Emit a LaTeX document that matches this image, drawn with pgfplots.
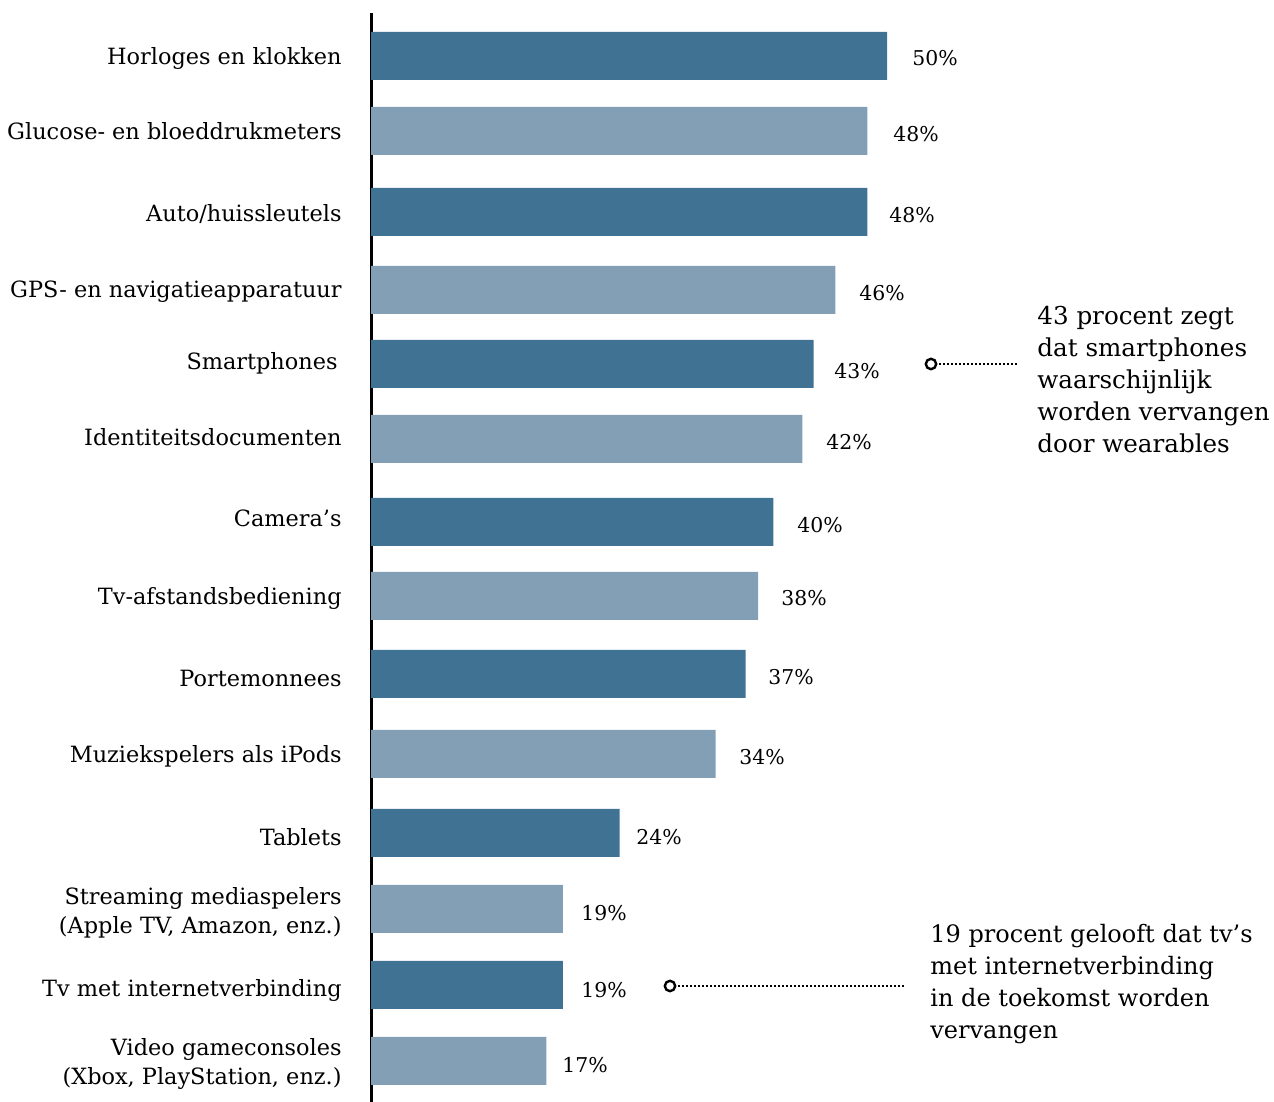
\documentclass[border=0pt]{standalone}
\usepackage{fontspec}
\setmainfont{DejaVu Serif}
\usepackage{pgfplots}
\pgfplotsset{compat=1.18}
\definecolor{darkbar}{HTML}{407294}
\definecolor{lightbar}{HTML}{829FB5}
\newcommand\catfont{\fontsize{11.2}{14.5}\selectfont}
\newcommand\pctfont{\fontsize{10.2}{12}\selectfont}
\newcommand\annfont{\fontsize{12.3}{16}\selectfont}
\newcommand\annfontb{\fontsize{12}{16}\selectfont}

\begin{document}
\begin{tikzpicture}
\begin{axis}[
  at={(185.5pt,0pt)}, anchor=south west,
  scale only axis, width=451.5pt, height=544.5pt,
  xmin=0, xmax=87.5, ymin=-1102, ymax=-13,
  axis lines=left,
  x axis line style={draw=none},
  y axis line style={-, black, line width=1.5pt},
  xtick=\empty,
  ytick={-58,-131,-214,-292,-363,-437,-518,-598,-679,-756,-837,-913,-990,-1064},
  yticklabels={
    {Horloges en klokken},
    {Glucose- en bloeddrukmeters},
    {Auto/huissleutels},
    {GPS- en navigatieapparatuur},
    {Smartphones\hspace*{2pt}},
    {Identiteitsdocumenten},
    {Camera’s},
    {Tv-afstandsbediening},
    {Portemonnees},
    {Muziekspelers als iPods},
    {Tablets},
    {Streaming mediaspelers\\(Apple TV, Amazon, enz.)},
    {Tv met internetverbinding},
    {Video gameconsoles\\(Xbox, PlayStation, enz.)}},
  major tick length=0pt,
  tick align=inside,
  yticklabel style={font=\catfont, align=right, anchor=east, inner sep=0pt, xshift=-14.5pt, text=black},
  clip=false,
  /pgf/number format/assume math mode=true,
]
% dark bars
\addplot[xbar, bar width=48, bar shift=0pt, fill=darkbar, draw=none] table[x=x, y=y] {
x y
50.0 -56
48.1 -212
42.9 -364
39.0 -522
36.3 -674
24.1 -833
18.6 -985
};
% light bars
\addplot[xbar, bar width=48, bar shift=0pt, fill=lightbar, draw=none] table[x=x, y=y] {
x y
48.1 -131
45.0 -290
41.8 -439
37.5 -596
33.4 -754
18.6 -909
17.0 -1061
};
% value labels
\addplot[draw=none, mark=none, point meta=explicit,
  nodes near coords={\pgfmathprintnumber[fixed,precision=0]{\pgfplotspointmeta}\%},
  every node near coord/.style={anchor=west, inner sep=0pt, font=\pctfont, text=black}]
  table[x=x, y=y, meta=v] {
x y v
52.42 -58 50
50.58 -134 48
50.19 -215 48
47.29 -293 46
44.86 -371 43
44.09 -442 42
41.28 -525 40
39.73 -598 38
38.47 -677 37
35.66 -757 34
25.68 -837 24
20.35 -913 19
20.35 -990 19
18.51 -1065 17
};
\end{axis}
\begin{scope}[x=0.5pt, y=-0.5pt, shift={(0pt,551pt)}]
  \draw[line width=1.2pt] (931,364) circle[radius=2.6pt];
  \draw[line width=1pt, dash pattern=on 0.8pt off 1.2pt] (939,364) -- (1017,364);
  \node[anchor=west, align=left, inner sep=0pt, font=\annfont] at (1037,380)
    {43 procent zegt\\dat smartphones\\waarschijnlijk\\worden vervangen\\door wearables};
  \draw[line width=1.2pt] (670,986) circle[radius=2.6pt];
  \draw[line width=1pt, dash pattern=on 0.8pt off 1.2pt] (678,986) -- (905,986);
  \node[anchor=west, align=left, inner sep=0pt, font=\annfontb] at (930,984)
    {19 procent gelooft dat tv’s\\met internetverbinding\\in de toekomst worden\\vervangen};
\end{scope}
\pgfresetboundingbox
\useasboundingbox (0,0) rectangle (637pt,551pt);
\end{tikzpicture}
\end{document}
